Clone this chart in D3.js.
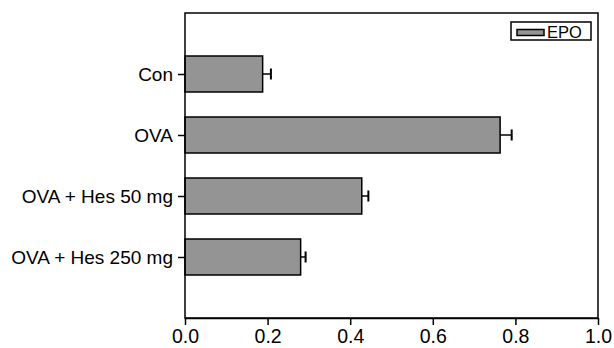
<!DOCTYPE html>
<html><head><meta charset="utf-8">
<script src="https://cdn.jsdelivr.net/npm/d3@7"></script>
<style>body{margin:0;background:#fff;} svg{display:block;}</style>
</head><body>
<svg id="c" width="614" height="348"></svg>
<script>
const categories = ["Con", "OVA", "OVA + Hes 50 mg", "OVA + Hes 250 mg"];
const values = [0.188, 0.763, 0.428, 0.280];
const errors = [0.020, 0.028, 0.016, 0.012];
const xTicks = [0.0, 0.2, 0.4, 0.6, 0.8, 1.0];
const seriesName = "EPO";

const svg = d3.select("#c");
const L = 185, R = 598, T = 13, B = 318;
const font = "Arial, 'Liberation Sans', sans-serif";

const x = d3.scaleLinear().domain([0, 1]).range([L, R]);
const y = d3.scalePoint().domain(categories).range([T, B]).padding(1);
const bh = 36;

// bars
svg.selectAll("rect.bar").data(categories).enter().append("rect")
  .attr("x", x(0)).attr("y", d => y(d) - bh / 2)
  .attr("width", (d, i) => x(values[i]) - x(0)).attr("height", bh)
  .attr("fill", "#949494").attr("stroke", "#000").attr("stroke-width", 1.5);

// error bars
const eg = svg.selectAll("g.err").data(categories).enter().append("g");
eg.append("line")
  .attr("x1", (d, i) => x(values[i])).attr("x2", (d, i) => x(values[i] + errors[i]))
  .attr("y1", d => y(d)).attr("y2", d => y(d))
  .attr("stroke", "#000").attr("stroke-width", 1.5);
eg.append("line")
  .attr("x1", (d, i) => x(values[i] + errors[i])).attr("x2", (d, i) => x(values[i] + errors[i]))
  .attr("y1", d => y(d) - 5.5).attr("y2", d => y(d) + 5.5)
  .attr("stroke", "#000").attr("stroke-width", 2);

// frame
svg.append("rect").attr("x", L).attr("y", T).attr("width", R - L).attr("height", B - T)
  .attr("fill", "none").attr("stroke", "#000").attr("stroke-width", 1.5);

// x axis
const xa = svg.append("g").attr("transform", `translate(0,${B})`)
  .call(d3.axisBottom(x).tickValues(xTicks).tickFormat(d3.format(".1f")).tickSize(7).tickSizeOuter(0));
xa.select(".domain").attr("stroke-width", 1.5);
xa.selectAll(".tick line").attr("stroke-width", 1.5);
xa.selectAll("text").attr("font-family", font).attr("font-size", 19.5).attr("fill", "#000").attr("dy", "0.75em").attr("y", 10);

// y axis
const ya = svg.append("g").attr("transform", `translate(${L},0)`)
  .call(d3.axisLeft(y).tickSize(7).tickSizeOuter(0));
ya.select(".domain").remove();
ya.selectAll(".tick line").attr("stroke-width", 1.5);
ya.selectAll("text").attr("font-family", font).attr("font-size", 19).attr("fill", "#000").attr("x", -12);

// legend
const lg = svg.append("g");
lg.append("rect").attr("x", 511).attr("y", 22).attr("width", 80).attr("height", 18)
  .attr("fill", "#fff").attr("stroke", "#000").attr("stroke-width", 1.5);
lg.append("rect").attr("x", 517).attr("y", 29.5).attr("width", 27).attr("height", 6)
  .attr("fill", "#949494").attr("stroke", "#000").attr("stroke-width", 1.5);
lg.append("text").attr("x", 547).attr("y", 37.5).text(seriesName)
  .attr("font-family", font).attr("font-size", 16.5).attr("fill", "#000");
</script>
</body></html>
